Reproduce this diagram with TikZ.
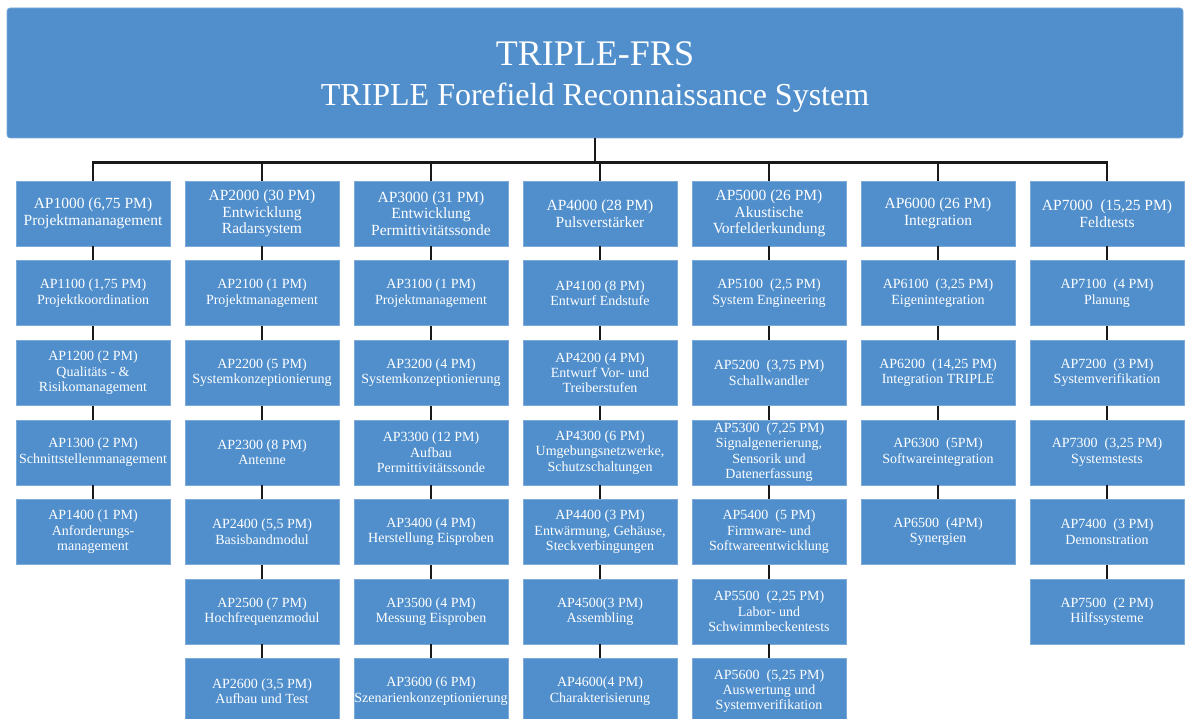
\documentclass[tikz,border=0pt]{standalone}
\usepackage{fontspec}
\setmainfont{Liberation Serif}
\usetikzlibrary{positioning}
\definecolor{apblue}{RGB}{80,143,204}

\begin{document}
\begin{tikzpicture}[x=1pt,y=1pt,
  wp/.style={fill=apblue,draw=apblue!75!white,line width=.6pt,text=white,align=center,
    minimum width=154pt,minimum height=65pt,inner sep=0pt,font=\fontsize{14}{15.4}\selectfont},
  wpmain/.style={wp,font=\fontsize{15.5}{16.5}\selectfont},
  link/.style={line width=2.8pt,black!90}]
  \useasboundingbox (0,0) rectangle (1185,-719);

  \node[wp,rounded corners=3pt,minimum width=1176pt,minimum height=130pt] (frs) at (595,-73) {};
  \node[text=white,align=center,inner sep=0pt,font=\fontsize{32}{40}\selectfont] (frstitle)
    at ([yshift=-4.5pt]frs.center)
    {{\fontsize{36}{40}\selectfont TRIPLE-FRS}\\TRIPLE Forefield Reconnaissance System};

  \node[wpmain] (ap1000) at (93,-213.5) {AP1000 (6,75 PM)\\Projektmananagement};
  \node[wpmain] (ap2000) at (262,-213.5) {AP2000 (30 PM)\\Entwicklung\\Radarsystem};
  \node[wpmain] (ap3000) at (431,-213.5) {AP3000 (31 PM)\\Entwicklung\\Permittivitätssonde};
  \node[wpmain] (ap4000) at (600,-213.5) {AP4000 (28 PM)\\Pulsverstärker};
  \node[wpmain] (ap5000) at (769,-213.5) {AP5000 (26 PM)\\Akustische\\Vorfelderkundung};
  \node[wpmain] (ap6000) at (938,-213.5) {AP6000 (26 PM)\\Integration};
  \node[wpmain] (ap7000) at (1107,-213.5) {AP7000~ (15,25 PM)\\Feldtests};

  \node[wp,below=14pt of ap1000] (ap1100) {AP1100 (1,75 PM)\\Projektkoordination};
  \node[wp,below=14pt of ap1100] (ap1200) {AP1200 (2 PM)\\Qualitäts - \&\\Risikomanagement};
  \node[wp,below=14pt of ap1200] (ap1300) {AP1300 (2 PM)\\Schnittstellenmanagement};
  \node[wp,below=14pt of ap1300] (ap1400) {AP1400 (1 PM)\\Anforderungs-\\management};

  \node[wp,below=14pt of ap2000] (ap2100) {AP2100 (1 PM)\\Projektmanagement};
  \node[wp,below=14pt of ap2100] (ap2200) {AP2200 (5 PM)\\Systemkonzeptionierung};
  \node[wp,below=14pt of ap2200] (ap2300) {AP2300 (8 PM)\\Antenne};
  \node[wp,below=14pt of ap2300] (ap2400) {AP2400 (5,5 PM)\\Basisbandmodul};
  \node[wp,below=14pt of ap2400] (ap2500) {AP2500 (7 PM)\\Hochfrequenzmodul};
  \node[wp,below=14pt of ap2500] (ap2600) {AP2600 (3,5 PM)\\Aufbau und Test};

  \node[wp,below=14pt of ap3000] (ap3100) {AP3100 (1 PM)\\Projektmanagement};
  \node[wp,below=14pt of ap3100] (ap3200) {AP3200 (4 PM)\\Systemkonzeptionierung};
  \node[wp,below=14pt of ap3200] (ap3300) {AP3300 (12 PM)\\Aufbau\\Permittivitätssonde};
  \node[wp,below=14pt of ap3300] (ap3400) {AP3400 (4 PM)\\Herstellung Eisproben};
  \node[wp,below=14pt of ap3400] (ap3500) {AP3500 (4 PM)\\Messung Eisproben};
  \node[wp,below=14pt of ap3500] (ap3600) {AP3600 (6 PM)\\Szenarienkonzeptionierung};

  \node[wp,below=14pt of ap4000] (ap4100) {AP4100 (8 PM)\\Entwurf Endstufe};
  \node[wp,below=14pt of ap4100] (ap4200) {AP4200 (4 PM)\\Entwurf Vor- und\\Treiberstufen};
  \node[wp,below=14pt of ap4200] (ap4300) {AP4300 (6 PM)\\Umgebungsnetzwerke,\\Schutzschaltungen};
  \node[wp,below=14pt of ap4300] (ap4400) {AP4400 (3 PM)\\Entwärmung, Gehäuse,\\Steckverbingungen};
  \node[wp,below=14pt of ap4400] (ap4500) {AP4500(3 PM)\\Assembling};
  \node[wp,below=14pt of ap4500] (ap4600) {AP4600(4 PM)\\Charakterisierung};

  \node[wp,below=14pt of ap5000] (ap5100) {AP5100~ (2,5 PM)\\System Engineering};
  \node[wp,below=14pt of ap5100] (ap5200) {AP5200~ (3,75 PM)\\Schallwandler};
  \node[wp,below=14pt of ap5200] (ap5300) {AP5300~ (7,25 PM)\\Signalgenerierung,\\Sensorik und\\Datenerfassung};
  \node[wp,below=14pt of ap5300] (ap5400) {AP5400~ (5 PM)\\Firmware- und\\Softwareentwicklung};
  \node[wp,below=14pt of ap5400] (ap5500) {AP5500~ (2,25 PM)\\Labor- und\\Schwimmbeckentests};
  \node[wp,below=14pt of ap5500] (ap5600) {AP5600~ (5,25 PM)\\Auswertung und\\Systemverifikation};

  \node[wp,below=14pt of ap6000] (ap6100) {AP6100~ (3,25 PM)\\Eigenintegration};
  \node[wp,below=14pt of ap6100] (ap6200) {AP6200~ (14,25 PM)\\Integration TRIPLE};
  \node[wp,below=14pt of ap6200] (ap6300) {AP6300~ (5PM)\\Softwareintegration};
  \node[wp,below=14pt of ap6300] (ap6500) {AP6500~ (4PM)\\Synergien};

  \node[wp,below=14pt of ap7000] (ap7100) {AP7100~ (4 PM)\\Planung};
  \node[wp,below=14pt of ap7100] (ap7200) {AP7200~ (3 PM)\\Systemverifikation};
  \node[wp,below=14pt of ap7200] (ap7300) {AP7300~ (3,25 PM)\\Systemstests};
  \node[wp,below=14pt of ap7300] (ap7400) {AP7400~ (3 PM)\\Demonstration};
  \node[wp,below=14pt of ap7400] (ap7500) {AP7500~ (2 PM)\\Hilfssysteme};

  \draw[link] (frs.south) -- ++(0,-24) -| (ap1000);
  \draw[link] (frs.south) -- ++(0,-24) -| (ap2000);
  \draw[link] (frs.south) -- ++(0,-24) -| (ap3000);
  \draw[link] (frs.south) -- ++(0,-24) -| (ap4000);
  \draw[link] (frs.south) -- ++(0,-24) -| (ap5000);
  \draw[link] (frs.south) -- ++(0,-24) -| (ap6000);
  \draw[link] (frs.south) -- ++(0,-24) -| (ap7000);

  \draw[link] (ap1000) -- (ap1100) -- (ap1200) -- (ap1300) -- (ap1400);
  \draw[link] (ap2000) -- (ap2100) -- (ap2200) -- (ap2300) -- (ap2400) -- (ap2500) -- (ap2600);
  \draw[link] (ap3000) -- (ap3100) -- (ap3200) -- (ap3300) -- (ap3400) -- (ap3500) -- (ap3600);
  \draw[link] (ap4000) -- (ap4100) -- (ap4200) -- (ap4300) -- (ap4400) -- (ap4500) -- (ap4600);
  \draw[link] (ap5000) -- (ap5100) -- (ap5200) -- (ap5300) -- (ap5400) -- (ap5500) -- (ap5600);
  \draw[link] (ap6000) -- (ap6100) -- (ap6200) -- (ap6300) -- (ap6500);
  \draw[link] (ap7000) -- (ap7100) -- (ap7200) -- (ap7300) -- (ap7400) -- (ap7500);
\end{tikzpicture}
\end{document}
